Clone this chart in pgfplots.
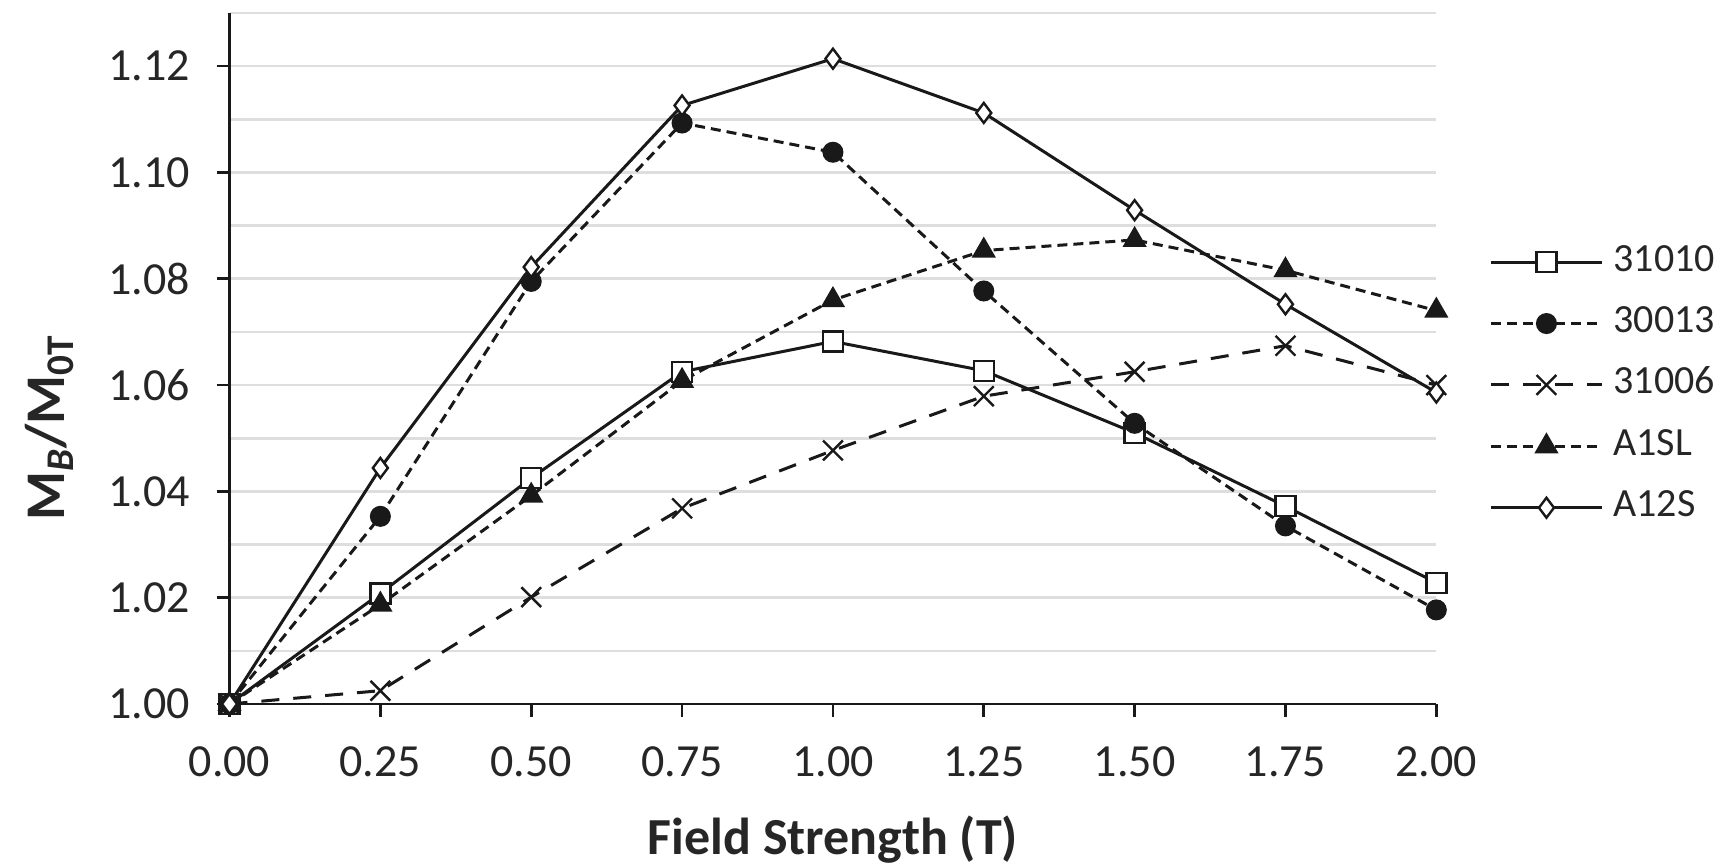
\documentclass[border=0pt]{standalone}
\usepackage{pgfplots}
\pgfplotsset{compat=1.18}
\usepackage{fontspec}
\setmainfont{Carlito}
\begin{document}
\begin{tikzpicture}
\begin{axis}[
  scale only axis, width=603.4pt, height=345.5pt,
  xmin=0, xmax=2, ymin=1, ymax=1.13,
  axis x line*=bottom, axis y line*=left,
  axis line style={line width=1.3pt, black!90, -},
  xtick={0,0.25,0.5,0.75,1,1.25,1.5,1.75,2},
  ytick={1,1.02,1.04,1.06,1.08,1.10,1.12},
  minor ytick={1.01,1.03,1.05,1.07,1.09,1.11,1.13},
  ymajorgrids, yminorgrids,
  major grid style={line width=1.3pt, color=black!13},
  minor grid style={line width=1.3pt, color=black!13},
  tick align=outside, major tick length=6.5pt, minor tick length=0pt,
  tick style={line width=1.3pt, black!90},
  /pgf/number format/assume math mode=true,
  xticklabel style={/pgf/number format/.cd, fixed, fixed zerofill, precision=2, /tikz/.cd,
    font=\fontsize{23}{27}\selectfont, text=black!85, anchor=base, inner sep=0pt, yshift=-30pt},
  yticklabel style={/pgf/number format/.cd, fixed, fixed zerofill, precision=2, /tikz/.cd,
    font=\fontsize{23}{27}\selectfont, text=black!85, anchor=east, inner sep=0pt, xshift=-13pt},
  xlabel={\textbf{Field Strength (T)}},
  ylabel={\textbf{M\textsubscript{\textit{B}}/M\textsubscript{0T}}},
  xlabel style={font=\fontsize{26}{30}\selectfont, text=black!85, at={(rel axis cs:0.5,-0.218)}, anchor=base},
  ylabel style={font=\fontsize{28}{30}\selectfont, text=black!85, at={(rel axis cs:-0.149,0.40)}, anchor=center},
  legend style={draw=none, fill=none, at={(rel axis cs:1.0437,0.4617)}, anchor=west, inner sep=0pt,
    font=\fontsize{20}{23}\selectfont, text=black!85, row sep=13.7pt, column sep=5pt,
    nodes={inner sep=0pt, text height=13pt, text depth=4pt}},
  legend cell align=left,
  legend image code/.code={\draw[mark repeat=2,mark phase=2,#1] plot coordinates {(0pt,0pt) (27.75pt,0pt) (55.5pt,0pt)};},
  clip=false,
  every axis plot/.append style={line width=1.5pt, black!90},
]
\addplot[solid, mark=square*, mark size=5pt, mark options={solid, fill=white, line width=1.2pt}] coordinates {
(0,1.000) (0.25,1.0208) (0.5,1.0425) (0.75,1.0625) (1,1.0682) (1.25,1.0627) (1.5,1.0510) (1.75,1.0372) (2,1.0228)};
\addlegendentry{31010}
\addplot[dash pattern=on 5pt off 3pt, mark=*, mark size=4.5pt, mark options={solid, fill=black!90}] coordinates {
(0,1.000) (0.25,1.0353) (0.5,1.0795) (0.75,1.1093) (1,1.1038) (1.25,1.0777) (1.5,1.0528) (1.75,1.0335) (2,1.0177)};
\addlegendentry{30013}
\addplot[dash pattern=on 9pt off 7pt, mark=x, mark size=7pt, mark options={solid, line width=1.2pt}] coordinates {
(0,1.000) (0.25,1.0025) (0.5,1.0201) (0.75,1.0368) (1,1.0477) (1.25,1.0579) (1.5,1.0625) (1.75,1.0674) (2,1.0600)};
\addlegendentry{31006}
\addplot[dash pattern=on 5pt off 3pt, mark=triangle*, mark size=5.5pt, mark options={solid, fill=black!90}] coordinates {
(0,1.000) (0.25,1.0187) (0.5,1.0392) (0.75,1.0608) (1,1.0760) (1.25,1.0853) (1.5,1.0873) (1.75,1.0816) (2,1.0740)};
\addlegendentry{A1SL}
\addplot[solid, mark=diamond*, mark size=5pt, mark options={solid, fill=white, line width=1.2pt}] coordinates {
(0,1.000) (0.25,1.0444) (0.5,1.0822) (0.75,1.1126) (1,1.1214) (1.25,1.1112) (1.5,1.0929) (1.75,1.0752) (2,1.0586)};
\addlegendentry{A12S}
\coordinate (bbl) at (rel axis cs:-0.1902,-0.233);
\coordinate (btr) at (rel axis cs:1.2301,1.0188);
\end{axis}
\pgfresetboundingbox
\useasboundingbox (bbl) rectangle (btr);
\end{tikzpicture}
\end{document}
